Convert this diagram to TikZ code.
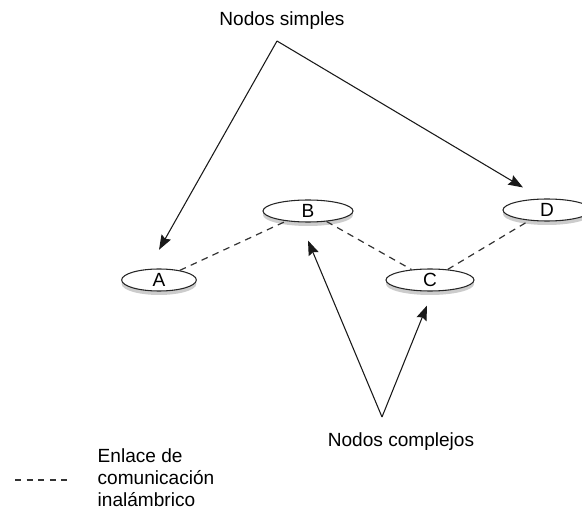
\documentclass[tikz,border=0pt]{standalone}
\usepackage{fontspec}
\setmainfont{Liberation Sans}
\usetikzlibrary{shapes.geometric,shadows,arrows.meta}

\begin{document}
\begin{tikzpicture}[x=0.75pt,y=-0.75pt,
  nodo/.style={ellipse,draw=black!85,fill=white,line width=0.8pt,inner sep=0pt,minimum height=16.5pt,
    drop shadow={opacity=0.4,shadow xshift=0pt,shadow yshift=-3pt}},
  enlace/.style={draw=black!80,line width=0.9pt,dash pattern=on 5pt off 4pt},
  flecha/.style={draw=black!90,line width=0.8pt,-{Stealth[length=11pt,width=8pt,inset=1.5pt]}},
  every node/.style={font=\fontsize{14.3}{16.5}\selectfont}]
  \useasboundingbox (0,0) rectangle (582,513);
  \node[nodo,minimum width=56pt] (A) at (159,280) {A};
  \node[nodo,minimum width=67.5pt] (B) at (308,211) {B};
  \node[nodo,minimum width=66pt] (C) at (430,280) {C};
  \node[nodo,minimum width=66pt] (D) at (547,210) {D};
  \draw[enlace] (A) -- (B);
  \draw[enlace] (B) -- (C);
  \draw[enlace] (C) -- (D);
  \node (simples) at (282,21) {Nodos simples};
  \coordinate (s) at (277,41);
  \draw[flecha] (s) -- ([yshift=14pt]A.north);
  \draw[flecha] (s) -- ([shift={(-24,-11)}]D.north);
  \node (complejos) at (401,442) {Nodos complejos};
  \coordinate (c) at (382,417);
  \draw[flecha] (c) -- ([shift={(0,18)}]B.south);
  \draw[flecha] (c) -- ([shift={(-3,14)}]C.south);
  \coordinate (l1) at (15,480);
  \coordinate (l2) at (73,480);
  \draw[enlace,dash pattern=on 4.5pt off 4.2pt] (l1) -- (l2);
  \node[anchor=west,align=left] (leyenda) at (93,478) {Enlace de\\comunicación\\inalámbrico};
\end{tikzpicture}
\end{document}
